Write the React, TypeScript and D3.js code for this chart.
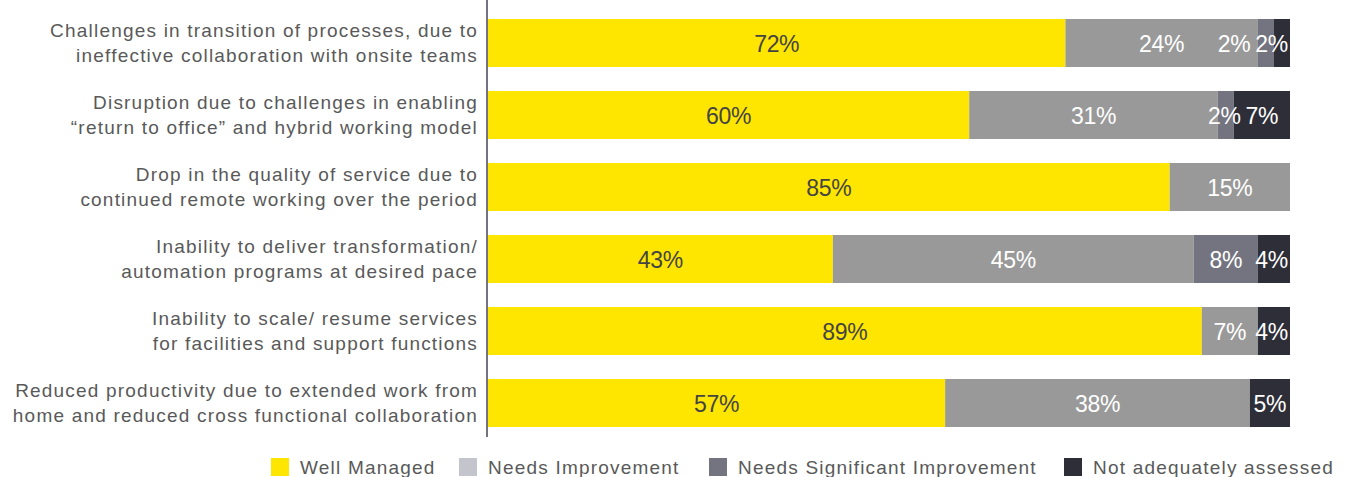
import React from "react";
import * as d3 from "d3";

const categories: string[][] = [
  ["Challenges in transition of processes, due to", "ineffective collaboration with onsite teams"],
  ["Disruption due to challenges in enabling", "\u201creturn to office\u201d and hybrid working model"],
  ["Drop in the quality of service due to", "continued remote working over the period"],
  ["Inability to deliver transformation/", "automation programs at desired pace"],
  ["Inability to scale/ resume services", "for facilities and support functions"],
  ["Reduced productivity due to extended work from", "home and reduced cross functional collaboration"],
];
const seriesNames = ["Well Managed", "Needs Improvement", "Needs Significant Improvement", "Not adequately assessed"];
const wellManaged = [72, 60, 85, 43, 89, 57];
const needsImprovement = [24, 31, 15, 45, 7, 38];
const needsSignificant = [2, 2, 0, 8, 0, 0];
const notAssessed = [2, 7, 0, 4, 4, 5];

const barColors = ["#FFE600", "#999999", "#747480", "#2E2E38"];
const legendColors = ["#FFE600", "#C4C4CD", "#747480", "#2E2E38"];
const labelColors = ["#444444", "#FFFFFF", "#FFFFFF", "#FFFFFF"];

const W = 1347;
const H = 477;
const FONT = "'Liberation Sans', Arial, sans-serif";
const VFS = 23;

export default function App() {
  const series = [wellManaged, needsImprovement, needsSignificant, notAssessed];
  const x = d3.scaleLinear().domain([0, 100]).range([488, 1290]);
  const y = d3.scaleBand<number>().domain(d3.range(categories.length)).range([7, 439]).paddingInner(1 / 3).paddingOuter(1 / 6);

  const stackData = categories.map((_, i) => {
    const o: Record<string, number> = {};
    seriesNames.forEach((s, k) => (o[s] = series[k][i]));
    return o;
  });
  const stacked = d3.stack<Record<string, number>>().keys(seriesNames)(stackData);

  // value labels with simple right-to-left overlap resolution
  const labels: { x: number; y: number; text: string; k: number }[] = [];
  categories.forEach((_, i) => {
    const row: { cx: number; w: number; text: string; k: number }[] = [];
    stacked.forEach((layer, k) => {
      const d = layer[i];
      const v = d[1] - d[0];
      if (v <= 0) return;
      const text = `${v}%`;
      const w = ((text.length - 1) * 0.556 + 0.889) * VFS - 0.3 * text.length;
      row.push({ cx: (x(d[0]) + x(d[1])) / 2, w, text, k });
    });
    let limit = x(100) - 2;
    for (let j = row.length - 1; j >= 0; j--) {
      const r = row[j];
      if (r.cx + r.w / 2 > limit) r.cx = limit - r.w / 2;
      limit = r.cx - r.w / 2 - 5;
    }
    const cy = y(i)! + y.bandwidth() / 2;
    row.forEach((r) => labels.push({ x: r.cx, y: cy + 9, text: r.text, k: r.k }));
  });

  const legendX = [271, 459, 709, 1064];

  return (
    <div style={{ position: "absolute", left: 0, top: 0 }}>
      <svg width={W} height={H} style={{ display: "block" }}>
        <rect width={W} height={H} fill="#fff" />
        {categories.map((lines, i) => {
          const cy = y(i)! + y.bandwidth() / 2;
          return (
            <text key={i} textAnchor="end" fill="#595959" fontFamily={FONT} fontSize={19} style={{ letterSpacing: "1.2px" }}>
              {lines.map((l, j) => (
                <tspan key={j} x={478} y={cy - 6 + j * 25}>{l}</tspan>
              ))}
            </text>
          );
        })}
        {stacked.map((layer, k) => (
          <g key={k}>
            {layer.map((d, i) => {
              const v = d[1] - d[0];
              if (v <= 0) return null;
              const x0 = x(d[0]);
              const w = x(d[1]) - x0;
              return <rect key={i} x={x0} y={y(i)!} width={w} height={y.bandwidth()} fill={barColors[k]} />;
            })}
          </g>
        ))}
        {labels.map((l, i) => (
          <text key={i} x={l.x} y={l.y} textAnchor="middle" fill={labelColors[l.k]} fontFamily={FONT} fontSize={VFS} style={{ letterSpacing: "-0.3px" }}>
            {l.text}
          </text>
        ))}
        <line x1={487} x2={487} y1={0} y2={437} stroke="#747480" strokeWidth={2} />
        {seriesNames.map((s, k) => (
          <g key={s}>
            <rect x={legendX[k]} y={458} width={18} height={18} fill={legendColors[k]} />
            <text x={legendX[k] + 29} y={474} fill="#595959" fontFamily={FONT} fontSize={19} style={{ letterSpacing: "1.2px" }}>
              {s}
            </text>
          </g>
        ))}
      </svg>
    </div>
  );
}
